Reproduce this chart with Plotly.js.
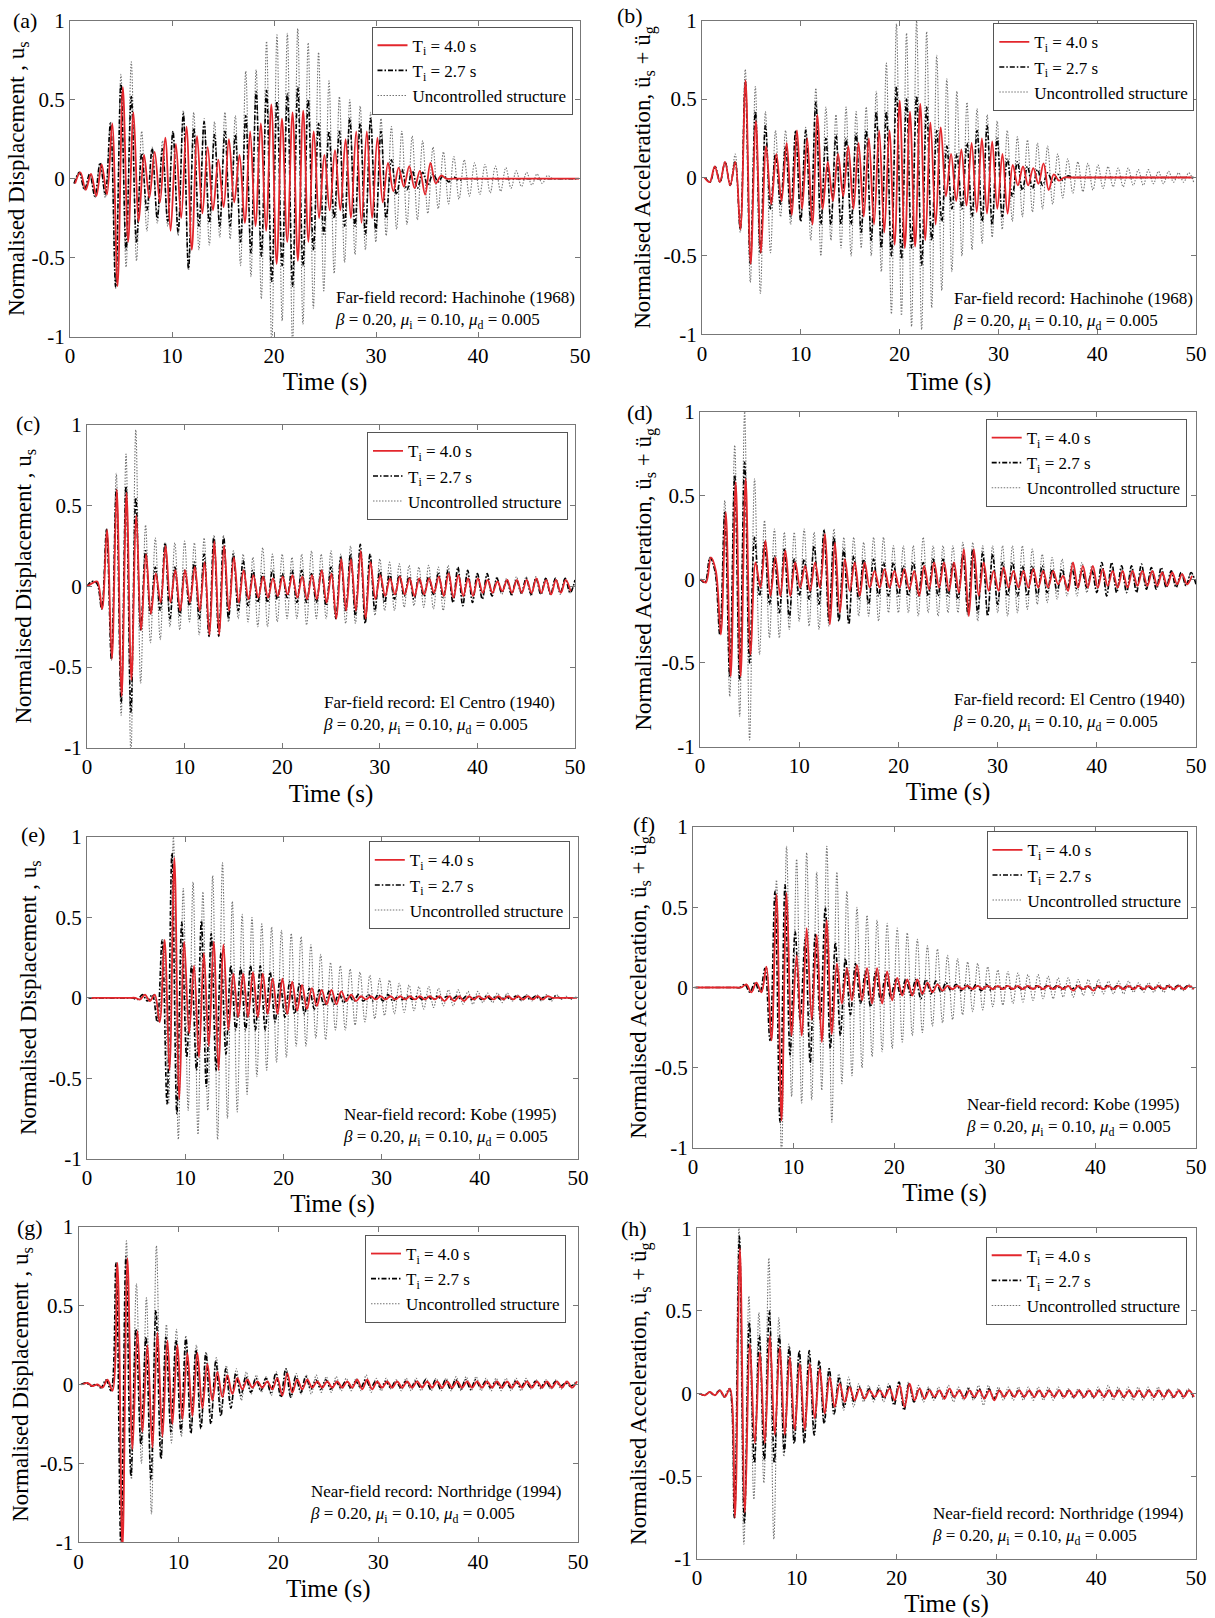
<!DOCTYPE html>
<html><head><meta charset="utf-8">
<script src="https://cdn.plot.ly/plotly-3.0.1.min.js"></script>
<style>html,body{margin:0;padding:0;background:#fff}#chart{width:1215px;height:1618px}</style>
</head><body><div id="chart"></div>
<script>
// ================= DATA (peak sequences) =================
const timeTicks = [0, 10, 20, 30, 40, 50];
const respTicks = [-1, -0.5, 0, 0.5, 1];
const respTickText = ['-1', '-0.5', '0', '0.5', '1'];
const seriesNames = ['T<sub>i</sub> = 4.0 s', 'T<sub>i</sub> = 2.7 s', 'Uncontrolled structure'];
const panelLabels = ['(a)', '(b)', '(c)', '(d)', '(e)', '(f)', '(g)', '(h)'];
const recordNames = ['Far-field record: Hachinohe (1968)', 'Far-field record: Hachinohe (1968)',
  'Far-field record: El Centro (1940)', 'Far-field record: El Centro (1940)',
  'Near-field record: Kobe (1995)', 'Near-field record: Kobe (1995)',
  'Near-field record: Northridge (1994)', 'Near-field record: Northridge (1994)'];
const paramText = '<i>β</i> = 0.20, <i>μ</i><sub>i</sub> = 0.10, <i>μ</i><sub>d</sub> = 0.005';
const dispTitle = 'Normalised Displacement , u<sub>s</sub>';
const accTitle = 'Normalised Acceleration, ü<sub>s</sub> + ü<sub>g</sub>';

// Each response is a sequence of successive extremes; its grid = [first time (s), step (s)]
// (a) Hachinohe, displacement
const aUncGrid = [0.4, 0.51];
const aUnc = [-0.03,0.04,-0.07,0.03,-0.12,0.1,-0.12,0.36,-0.68,0.66,
 -0.56,0.74,-0.52,0.3,-0.33,0.2,-0.28,0.24,-0.3,0.3,
 -0.36,0.43,-0.58,0.42,-0.45,0.38,-0.42,0.36,-0.37,0.42,
 -0.38,0.4,-0.55,0.68,-0.62,0.69,-0.76,0.87,-1.05,0.91,
 -0.9,0.92,-1.05,0.95,-0.92,0.86,-0.82,0.8,-0.71,0.62,
 -0.6,0.52,-0.53,0.5,-0.48,0.46,-0.45,0.42,-0.4,0.38,
 -0.36,0.33,-0.32,0.3,-0.29,0.27,-0.26,0.24,-0.22,0.2,
 -0.19,0.17,-0.16,0.14,-0.13,0.12,-0.11,0.1,-0.1,0.09,
 -0.09,0.08,-0.08,0.07,-0.06,0.05,-0.05,0.04,-0.04,0.03,
 -0.03,0.02,0,0,0,0,0,0];
const aT27Grid = [0.4, 0.51];
const aT27 = [-0.03,0.04,-0.07,0.03,-0.11,0.1,-0.1,0.35,-0.69,0.6,
 -0.45,0.52,-0.4,0.16,-0.2,0.19,-0.25,0.19,-0.27,0.3,
 -0.34,0.41,-0.57,0.32,-0.3,0.36,-0.28,0.28,-0.3,0.3,
 -0.3,0.28,-0.4,0.4,-0.47,0.55,-0.49,0.56,-0.65,0.49,
 -0.55,0.54,-0.68,0.58,-0.55,0.5,-0.45,0.35,-0.35,0.3,
 -0.25,0.3,-0.3,0.38,-0.3,0.35,-0.35,0.38,-0.33,0.3,
 -0.25,0.12,-0.1,0.06,-0.07,0.05,-0.06,0.04,-0.04,0.03,
 -0.02,0.02,-0.02,0.01,-0.01,0,0,0,0,0,
 0,0,0,0,0,0,0,0,0,0, 0,0,0,0,0,0,0,0];
const aT40Grid = [0.5, 0.52];
const aT40 = [-0.03,0.04,-0.07,0.03,-0.11,0.09,-0.1,0.35,-0.68,0.58,
 -0.4,0.42,-0.27,0.15,-0.12,0.17,-0.15,0.26,-0.33,0.22,
 -0.25,0.33,-0.45,0.27,-0.22,0.2,-0.2,0.12,-0.18,0.25,
 -0.15,0.15,-0.28,0.3,-0.3,0.35,-0.33,0.47,-0.54,0.38,
 -0.4,0.42,-0.52,0.43,-0.4,0.3,-0.25,0.15,-0.2,0.18,
 -0.2,0.25,-0.25,0.3,-0.28,0.3,-0.25,0.26,-0.15,0.1,
 -0.08,0.07,-0.05,0.08,-0.06,0.05,-0.1,0.1,-0.03,0.02,
 0,0,0,0,0,0,0,0,0,0, 0,0,0,0,0,0,0,0,0,0, 0,0,0,0,0,0];

// (b) Hachinohe, acceleration
const bUncGrid = [0.3, 0.51];
const bUnc = [0,-0.03,0.07,-0.03,0.1,-0.05,0.15,-0.35,0.69,-0.67,
 0.58,-0.74,0.42,-0.48,0.3,-0.25,0.3,-0.3,0.3,-0.28,
 0.32,-0.4,0.57,-0.5,0.45,-0.4,0.4,-0.45,0.45,-0.5,
 0.42,-0.45,0.45,-0.5,0.55,-0.6,0.73,-0.87,0.98,-0.88,
 0.92,-0.95,1.0,-0.97,0.93,-0.83,0.78,-0.72,0.63,-0.6,
 0.55,-0.5,0.48,-0.46,0.44,-0.42,0.4,-0.38,0.36,-0.33,
 0.3,-0.28,0.26,-0.25,0.24,-0.22,0.22,-0.2,0.2,-0.17,
 0.15,-0.13,0.12,-0.1,0.1,-0.09,0.09,-0.08,0.08,-0.07,
 0.07,-0.06,0.06,-0.06,0.06,-0.05,0.05,-0.05,0.05,-0.04,
 0.04,-0.04,0.04,-0.03,0.03,-0.03,0.03,-0.03];
const bT27Grid = [0.3, 0.51];
const bT27 = [0,-0.03,0.07,-0.03,0.1,-0.05,0.1,-0.33,0.61,-0.55,
 0.42,-0.48,0.33,-0.2,0.15,-0.17,0.2,-0.25,0.3,-0.28,
 0.3,-0.28,0.48,-0.3,0.25,-0.3,0.27,-0.3,0.25,-0.3,
 0.28,-0.35,0.3,-0.4,0.42,-0.45,0.42,-0.5,0.58,-0.52,
 0.5,-0.45,0.52,-0.56,0.45,-0.4,0.3,-0.28,0.2,-0.2,
 0.15,-0.2,0.22,-0.25,0.3,-0.28,0.33,-0.3,0.25,-0.25,
 0.12,-0.12,0.1,-0.08,0.07,-0.07,0.05,-0.05,0.03,-0.03,
 0.02,-0.02,0.01,0,0,0,0,0,0,0,
 0,0,0,0,0,0,0,0,0,0, 0,0,0,0,0,0,0,0];
const bT40Grid = [0.25, 0.52];
const bT40 = [0,-0.03,0.07,-0.03,0.1,-0.05,0.1,-0.33,0.62,-0.55,
 0.36,-0.48,0.2,-0.17,0.15,-0.15,0.22,-0.24,0.3,-0.2,
 0.25,-0.3,0.4,-0.2,0.1,-0.15,0.15,-0.12,0.2,-0.2,
 0.22,-0.25,0.25,-0.3,0.3,-0.35,0.3,-0.43,0.49,-0.45,
 0.42,-0.44,0.47,-0.4,0.35,-0.3,0.32,-0.12,0.15,-0.15,
 0.18,-0.18,0.22,-0.22,0.25,-0.23,0.23,-0.2,0.15,-0.23,
 0.08,-0.05,0.07,-0.05,0.06,-0.04,0.09,-0.08,0.02,-0.02,
 0,0,0,0,0,0,0,0,0,0, 0,0,0,0,0,0,0,0,0,0, 0,0,0,0,0,0];

// (c) El Centro, displacement
const cUncGrid = [0, 0.5];
const cUnc = [0,0.03,0.02,-0.14,0.36,-0.46,0.7,-0.8,0.82,-1.05,
 0.97,-0.6,0.38,-0.35,0.3,-0.33,0.27,-0.25,0.27,-0.27,
 0.28,-0.22,0.27,-0.3,0.3,-0.3,0.3,-0.28,0.25,-0.22,
 0.22,-0.2,0.2,-0.22,0.18,-0.25,0.24,-0.25,0.2,-0.22,
 0.2,-0.2,0.18,-0.2,0.2,-0.24,0.22,-0.2,0.2,-0.2,
 0.22,-0.2,0.2,-0.23,0.25,-0.23,0.22,-0.22,0.2,-0.18,
 0.17,-0.15,0.15,-0.15,0.14,-0.13,0.13,-0.12,0.12,-0.13,
 0.13,-0.14,0.12,-0.15,0.13,-0.1,0.1,-0.08,0.08,-0.08,
 0.08,-0.07,0.07,-0.06,0.06,-0.05,0.05,-0.06,0.06,-0.05,
 0.06,-0.06,0.06,-0.05,0.05,-0.05,0.05,-0.05,0.05,-0.04,0.04];
const cT27Grid = [0, 0.5];
const cT27 = [0,0.03,0.02,-0.14,0.35,-0.45,0.6,-0.72,0.62,-0.78,
 0.55,-0.27,0.22,-0.17,0.12,-0.15,0.27,-0.2,0.12,-0.18,
 0.1,-0.12,0.15,-0.2,0.2,-0.31,0.31,-0.31,0.31,-0.2,
 0.2,-0.15,0.16,-0.12,0.1,-0.1,0.08,-0.1,0.1,-0.08,
 0.08,-0.07,0.1,-0.1,0.1,-0.1,0.08,-0.1,0.1,-0.12,
 0.12,-0.2,0.18,-0.15,0.2,-0.18,0.26,-0.23,0.2,-0.15,
 0.1,-0.1,0.08,-0.08,0.07,-0.06,0.06,-0.08,0.05,-0.06,
 0.06,-0.05,0.08,-0.07,0.1,-0.1,0.12,-0.12,0.1,-0.1,
 0.08,-0.08,0.08,-0.06,0.05,-0.04,0.04,-0.05,0.04,-0.04,
 0.05,-0.05,0.05,-0.05,0.05,-0.05,0.05,-0.04,0.05,-0.04,0.04];
const cT40Grid = [0.05, 0.5];
const cT40 = [0,0.02,0.03,-0.14,0.35,-0.45,0.6,-0.68,0.58,-0.58,
 0.44,-0.27,0.2,-0.17,0.08,-0.1,0.25,-0.1,0.1,-0.15,
 0.1,-0.1,0.12,-0.15,0.15,-0.3,0.28,-0.3,0.25,-0.15,
 0.18,-0.1,0.1,-0.08,0.07,-0.07,0.06,-0.07,0.05,-0.06,
 0.06,-0.05,0.07,-0.07,0.06,-0.08,0.07,-0.08,0.1,-0.1,
 0.08,-0.2,0.17,-0.15,0.17,-0.15,0.22,-0.2,0.15,-0.08,
 0.07,-0.06,0.05,-0.05,0.06,-0.05,0.05,-0.06,0.05,-0.05,
 0.05,-0.04,0.06,-0.06,0.08,-0.07,0.07,-0.06,0.05,-0.06,
 0.05,-0.04,0.04,-0.04,0.03,-0.03,0.04,-0.04,0.04,-0.04,
 0.04,-0.04,0.05,-0.04,0.04,-0.05,0.04,-0.04,0.04,-0.03];

// (d) El Centro, acceleration
const dUncGrid = [0, 0.5];
const dUnc = [0,-0.02,0.13,0.05,-0.33,0.47,-0.7,0.8,-0.82,1.0,
 -0.96,0.6,-0.45,0.35,-0.35,0.3,-0.35,0.28,-0.3,0.28,
 -0.25,0.3,-0.28,0.28,-0.3,0.3,-0.28,0.3,-0.25,0.25,
 -0.25,0.25,-0.22,0.22,-0.22,0.25,-0.25,0.25,-0.2,0.2,
 -0.2,0.2,-0.2,0.2,-0.22,0.25,-0.2,0.2,-0.22,0.2,
 -0.2,0.2,-0.2,0.22,-0.22,0.22,-0.25,0.2,-0.2,0.2,
 -0.2,0.2,-0.22,0.2,-0.2,0.2,-0.18,0.18,-0.15,0.15,
 -0.14,0.13,-0.12,0.12,-0.1,0.1,-0.1,0.1,-0.08,0.08,
 -0.07,0.07,-0.07,0.06,-0.06,0.06,-0.06,0.06,-0.05,0.05,
 -0.05,0.05,-0.05,0.05,-0.05,0.04,-0.04,0.04,-0.04,0.04,-0.03];
const dT27Grid = [0, 0.5];
const dT27 = [0,-0.02,0.13,0.05,-0.33,0.4,-0.58,0.62,-0.6,0.7,
 -0.5,0.25,-0.1,0.22,-0.15,0.14,-0.2,0.18,-0.23,0.12,
 -0.1,0.12,-0.12,0.2,-0.15,0.29,-0.25,0.25,-0.25,0.18,
 -0.27,0.14,-0.12,0.12,-0.15,0.12,-0.1,0.1,-0.1,0.1,
 -0.1,0.08,-0.1,0.1,-0.1,0.1,-0.1,0.12,-0.1,0.12,
 -0.1,0.1,-0.12,0.15,-0.2,0.18,-0.2,0.16,-0.22,0.15,
 -0.15,0.1,-0.1,0.1,-0.1,0.08,-0.1,0.08,-0.1,0.08,
 -0.08,0.06,-0.07,0.06,-0.06,0.06,-0.06,0.05,-0.05,0.05,
 -0.08,0.1,-0.1,0.1,-0.08,0.08,-0.08,0.08,-0.08,0.09,
 -0.06,0.07,-0.06,0.07,-0.05,0.05,-0.05,0.04,-0.04,0.04,-0.03];
const dT40Grid = [0.1, 0.5];
const dT40 = [0,-0.02,0.13,0.05,-0.33,0.4,-0.58,0.58,-0.58,0.6,
 -0.45,0.1,-0.05,0.23,-0.1,0.13,-0.1,0.17,-0.1,0.1,
 -0.05,0.08,-0.07,0.1,-0.05,0.27,-0.27,0.22,-0.2,0.12,
 -0.07,0.1,-0.1,0.1,-0.05,0.05,-0.05,0.06,-0.05,0.05,
 -0.05,0.06,-0.06,0.05,-0.1,0.08,-0.06,0.1,-0.05,0.1,
 -0.07,0.1,-0.08,0.18,-0.22,0.18,-0.1,0.1,-0.07,0.05,
 -0.07,0.07,-0.05,0.05,-0.05,0.05,-0.05,0.06,-0.05,0.05,
 -0.05,0.05,-0.03,0.02,-0.07,0.1,-0.05,0.08,-0.05,0.08,
 -0.05,0.06,-0.04,0.05,-0.05,0.05,-0.05,0.05,-0.04,0.05,
 -0.04,0.05,-0.04,0.04,-0.04,0.04,-0.03,0.03,-0.03,0.02];

// (e) Kobe, displacement
const eUncGrid = [0.3, 0.5];
const eUnc = [0,0,0,0,0,0,0,0,0,0,
 -0.01,0.02,-0.02,0.02,-0.15,0.36,-0.66,1.0,-0.88,0.68,
 -0.7,0.72,-0.85,0.66,-0.7,0.76,-0.88,0.84,-0.75,0.6,
 -0.71,0.52,-0.6,0.5,-0.49,0.46,-0.45,0.44,-0.4,0.42,
 -0.37,0.4,-0.3,0.38,-0.3,0.33,-0.25,0.27,-0.26,0.22,
 -0.2,0.2,-0.2,0.18,-0.17,0.16,-0.15,0.14,-0.13,0.12,
 -0.11,0.11,-0.1,0.09,-0.09,0.08,-0.08,0.07,-0.07,0.07,
 -0.06,0.06,-0.05,0.05,-0.05,0.05,-0.04,0.04,-0.04,0.04,
 -0.03,0.03,-0.03,0.03,-0.03,0.03,-0.02,0.02,-0.02,0.02,
 -0.02,0.02,-0.02,0.02,-0.02,0.02,-0.01,0.01,-0.01,0.01];
const eT27Grid = [0.15, 0.5];
const eT27 = [0,0,0,0,0,0,0,0,0,0,
 -0.01,0.02,-0.02,0.02,-0.15,0.36,-0.66,0.9,-0.72,0.47,
 -0.37,0.2,-0.45,0.48,-0.55,0.4,-0.45,0.28,-0.35,0.2,
 -0.2,0.19,-0.2,0.2,-0.2,0.2,-0.2,0.16,-0.15,0.11,
 -0.12,0.1,-0.1,0.09,-0.1,0.06,-0.07,0.05,-0.05,0.04,
 -0.04,0.03,-0.03,0.02,-0.02,0.02,-0.02,0.02,-0.02,0.02,
 -0.02,0.02,-0.02,0.01,-0.01,0.01,-0.01,0.01,-0.01,0.01,
 -0.01,0.01,-0.01,0.01,-0.01,0.01,-0.01,0.01,-0.01,0.01,
 -0.01,0.01,-0.01,0.01,-0.01,0.01,-0.01,0.01,-0.01,0.01,
 -0.01,0.01,-0.01,0.01,-0.01,0.01,0,0,0,0];
const eT40Grid = [0.4, 0.5];
const eT40 = [0,0,0,0,0,0,0,0,0,0,
 -0.01,0.02,-0.02,0.02,-0.15,0.36,-0.45,0.87,-0.63,0.35,
 -0.22,0.2,-0.37,0.28,-0.3,0.35,-0.45,0.33,-0.2,0.15,
 -0.12,0.15,-0.12,0.16,-0.12,0.15,-0.1,0.12,-0.1,0.12,
 -0.1,0.1,-0.08,0.08,-0.07,0.06,-0.05,0.05,-0.04,0.05,
 -0.04,0.04,-0.02,0.02,-0.02,0.01,-0.01,0.01,-0.01,0.01,
 -0.01,0.01,-0.01,0.01,-0.01,0.01,-0.01,0.01,-0.01,0.01,
 -0.01,0.01,-0.02,0.01,-0.02,0.01,-0.02,0.01,-0.01,0.01,
 -0.01,0.01,-0.01,0.01,-0.01,0.01,-0.01,0.01,-0.01,0.01,
 -0.01,0.01,-0.01,0.01,0,0,0,0,0,0];

// (f) Kobe, acceleration
const fUncGrid = [0.3, 0.5];
const fUnc = [0,0,0,0,0,0,0,0,0,0,
 0.02,-0.03,0.03,-0.03,0.13,-0.33,0.67,-1.05,0.88,-0.68,
 0.8,-0.72,0.84,-0.7,0.72,-0.64,0.88,-0.84,0.72,-0.6,
 0.6,-0.55,0.5,-0.5,0.45,-0.43,0.42,-0.4,0.4,-0.38,
 0.37,-0.34,0.34,-0.3,0.3,-0.28,0.26,-0.24,0.24,-0.22,
 0.2,-0.2,0.18,-0.17,0.16,-0.15,0.15,-0.14,0.13,-0.12,
 0.11,-0.11,0.1,-0.1,0.09,-0.09,0.08,-0.08,0.08,-0.07,
 0.07,-0.07,0.06,-0.06,0.06,-0.06,0.05,-0.05,0.05,-0.05,
 0.05,-0.04,0.04,-0.04,0.04,-0.04,0.04,-0.03,0.03,-0.03,
 0.03,-0.03,0.03,-0.03,0.02,-0.02,0.02,-0.02,0.02,-0.02];
const fT27Grid = [0.15, 0.5];
const fT27 = [0,0,0,0,0,0,0,0,0,0,
 0.02,-0.03,0.03,-0.03,0.12,-0.33,0.6,-0.84,0.64,-0.42,
 0.35,-0.2,0.3,-0.47,0.33,-0.2,0.5,-0.38,0.28,-0.3,
 0.18,-0.17,0.15,-0.1,0.1,-0.12,0.1,-0.08,0.08,-0.06,
 0.05,-0.05,0.05,-0.05,0.05,-0.07,0.05,-0.04,0.04,-0.03,
 0.03,-0.02,0.02,-0.02,0.02,-0.02,0.02,-0.02,0.02,-0.02,
 0.01,-0.01,0.01,-0.01,0.01,-0.01,0.01,-0.01,0.01,-0.01,
 0.01,-0.01,0.01,-0.01,0.01,-0.01,0.01,-0.01,0.01,-0.01,
 0.01,-0.01,0.01,-0.01,0.01,-0.01,0.01,-0.01,0.01,-0.01,
 0.01,-0.01,0.01,-0.01,0.01,-0.01,0.01,-0.01,0.01,-0.01];
const fT40Grid = [0.3, 0.5];
const fT40 = [0,0,0,0,0,0,0,0,0,0,
 0.02,-0.03,0.03,-0.03,0.13,-0.33,0.58,-0.83,0.59,-0.3,
 0.2,-0.3,0.37,-0.2,0.33,-0.34,0.42,-0.29,0.15,-0.1,
 0.12,-0.08,0.14,-0.08,0.12,-0.1,0.12,-0.1,0.1,-0.08,
 0.06,-0.05,0.05,-0.05,0.05,-0.04,0.03,-0.03,0.02,-0.02,
 0.01,-0.01,0.01,-0.01,0.01,-0.01,0.01,-0.01,0.01,-0.01,
 0.01,-0.01,0.01,-0.01,0.01,-0.01,0.01,-0.01,0.01,-0.01,
 0.01,-0.01,0.01,-0.01,0.01,-0.02,0.01,-0.01,0.01,-0.02,
 0.01,-0.01,0.01,-0.01,0.01,-0.01,0.01,-0.01,0.01,-0.01,
 0.01,-0.01,0.01,-0.01,0.01,-0.01,0.01,-0.01,0.01,-0.01];

// (g) Northridge, displacement
const gUncGrid = [0.3, 0.5];
const gUnc = [0,0.01,-0.01,0,-0.02,0.03,-0.04,0.77,-1.05,0.91,
 -0.6,0.64,-0.5,0.55,-0.82,0.88,-0.47,0.38,-0.37,0.35,
 -0.33,0.27,-0.27,0.25,-0.25,0.2,-0.2,0.17,-0.15,0.12,
 -0.12,0.1,-0.1,0.08,-0.06,0.06,-0.05,0.05,-0.07,0.08,
 -0.08,0.1,-0.08,0.07,-0.06,0.06,-0.06,0.06,-0.05,0.05,
 -0.05,0.05,-0.04,0.04,-0.04,0.04,-0.04,0.06,-0.05,0.04,
 -0.04,0.04,-0.03,0.03,-0.04,0.04,-0.04,0.04,-0.04,0.04,
 -0.04,0.04,-0.04,0.04,-0.04,0.05,-0.04,0.05,-0.04,0.05,
 -0.04,0.04,-0.04,0.04,-0.04,0.04,-0.04,0.04,-0.04,0.04,
 -0.03,0.03,-0.03,0.03,-0.03,0.03,-0.03,0.02,-0.02,0.02];
const gT27Grid = [0.25, 0.5];
const gT27 = [0,0.01,-0.01,0,-0.02,0.03,-0.04,0.77,-1.05,0.81,
 -0.58,0.35,-0.38,0.3,-0.6,0.47,-0.47,0.3,-0.3,0.28,
 -0.3,0.3,-0.31,0.22,-0.28,0.2,-0.25,0.15,-0.2,0.1,
 -0.15,0.07,-0.07,0.05,-0.05,0.04,-0.04,0.04,-0.05,0.07,
 -0.08,0.1,-0.08,0.05,-0.05,0.05,-0.03,0.03,-0.03,0.03,
 -0.03,0.02,-0.02,0.02,-0.02,0.02,-0.02,0.03,-0.02,0.02,
 -0.02,0.02,-0.02,0.02,-0.02,0.02,-0.02,0.02,-0.02,0.03,
 -0.03,0.03,-0.03,0.03,-0.03,0.03,-0.03,0.03,-0.03,0.03,
 -0.02,0.02,-0.02,0.02,-0.02,0.02,-0.02,0.02,-0.02,0.02,
 -0.02,0.02,-0.02,0.02,-0.02,0.02,-0.01,0.01,-0.01,0.01];
const gT40Grid = [0.4, 0.5];
const gT40 = [0,0.01,-0.01,0,-0.02,0.03,-0.04,0.77,-1.05,0.8,
 -0.41,0.34,-0.3,0.25,-0.4,0.33,-0.33,0.28,-0.25,0.25,
 -0.22,0.2,-0.2,0.2,-0.15,0.13,-0.1,0.08,-0.08,0.06,
 -0.06,0.04,-0.03,0.03,-0.02,0.02,-0.02,0.02,-0.03,0.04,
 -0.07,0.07,-0.05,0.03,-0.03,0.03,-0.02,0.02,-0.02,0.02,
 -0.02,0.02,-0.02,0.02,-0.02,0.03,-0.03,0.03,-0.03,0.02,
 -0.02,0.02,-0.02,0.02,-0.02,0.02,-0.02,0.02,-0.02,0.02,
 -0.02,0.02,-0.02,0.02,-0.02,0.02,-0.02,0.02,-0.02,0.02,
 -0.02,0.02,-0.02,0.02,-0.02,0.02,-0.02,0.02,-0.02,0.02,
 -0.02,0.02,-0.02,0.02,-0.02,0.02,-0.02,0.02,-0.02,0.02];

// (h) Northridge, acceleration
const hUncGrid = [0.2, 0.5];
const hUnc = [0,-0.01,0.01,-0.01,0.02,-0.02,0.03,-0.75,1.0,-0.91,
 0.59,-0.64,0.49,-0.54,0.82,-0.88,0.46,-0.38,0.3,-0.3,
 0.25,-0.28,0.25,-0.25,0.2,-0.18,0.15,-0.13,0.12,-0.1,
 0.1,-0.08,0.06,-0.05,0.05,-0.05,0.05,-0.05,0.06,-0.06,
 0.07,-0.07,0.07,-0.05,0.05,-0.05,0.04,-0.04,0.04,-0.04,
 0.05,-0.05,0.04,-0.04,0.04,-0.04,0.05,-0.07,0.05,-0.04,
 0.04,-0.04,0.04,-0.04,0.04,-0.04,0.04,-0.04,0.04,-0.04,
 0.04,-0.04,0.04,-0.03,0.03,-0.03,0.03,-0.03,0.03,-0.03,
 0.04,-0.04,0.05,-0.04,0.04,-0.04,0.04,-0.04,0.04,-0.04,
 0.04,-0.04,0.04,-0.04,0.03,-0.03,0.03,-0.03,0.03,-0.03];
const hT27Grid = [0.25, 0.5];
const hT27 = [0,-0.01,0.01,-0.01,0.02,-0.02,0.03,-0.75,0.95,-0.78,
 0.43,-0.42,0.35,-0.4,0.5,-0.42,0.35,-0.35,0.28,-0.3,
 0.26,-0.3,0.26,-0.25,0.2,-0.18,0.15,-0.12,0.1,-0.08,
 0.06,-0.05,0.04,-0.03,0.03,-0.03,0.03,-0.03,0.05,-0.07,
 0.07,-0.1,0.06,-0.05,0.03,-0.03,0.03,-0.03,0.02,-0.02,
 0.02,-0.02,0.02,-0.02,0.03,-0.03,0.03,-0.03,0.03,-0.03,
 0.02,-0.02,0.02,-0.02,0.02,-0.02,0.02,-0.02,0.02,-0.02,
 0.02,-0.02,0.02,-0.02,0.02,-0.02,0.02,-0.02,0.02,-0.02,
 0.02,-0.02,0.02,-0.02,0.02,-0.02,0.02,-0.02,0.02,-0.02,
 0.02,-0.02,0.02,-0.02,0.02,-0.02,0.02,-0.02,0.02,-0.02];
const hT40Grid = [0.3, 0.5];
const hT40 = [0,-0.01,0.01,-0.01,0.02,-0.02,0.03,-0.75,0.88,-0.72,
 0.3,-0.3,0.25,-0.3,0.35,-0.25,0.28,-0.25,0.22,-0.22,
 0.18,-0.22,0.18,-0.15,0.15,-0.12,0.1,-0.08,0.06,-0.05,
 0.04,-0.04,0.03,-0.03,0.02,-0.02,0.02,-0.02,0.03,-0.04,
 0.05,-0.08,0.06,-0.04,0.03,-0.03,0.02,-0.02,0.02,-0.03,
 0.03,-0.02,0.02,-0.03,0.02,-0.02,0.02,-0.03,0.02,-0.04,
 0.02,-0.02,0.02,-0.02,0.02,-0.02,0.02,-0.02,0.02,-0.02,
 0.02,-0.02,0.02,-0.02,0.02,-0.02,0.02,-0.02,0.02,-0.02,
 0.02,-0.02,0.02,-0.02,0.02,-0.02,0.02,-0.02,0.02,-0.02,
 0.02,-0.02,0.02,-0.02,0.02,-0.02,0.02,-0.02,0.02,-0.02];

// ================= LAYOUT / STYLE =================
const W = 1215, H = 1618;
const FONT = 'Liberation Serif, Times New Roman, serif';
// plot boxes in px: [left, right, top, bottom]
const boxes = [[70,580,20.7,336.7],[702,1196,20.7,334.3],[87,575,425,747.7],[700,1196,411.7,746.7],
  [87,578,837,1158.7],[693,1196,827,1148],[78.5,578,1226.7,1542.3],[697,1196,1228.3,1559]];
const legendPos = [[572.5,26.7],[1194.3,23.3],[568,432.3],[1186.7,419],[569.8,841.3],[1187.5,831.3],[566,1235],[1186.7,1236.7]];
const notePos = [[577,310],[1195,311],[557,715],[1187,712],[559,1127],[1182,1117],[563,1504],[1185,1526]];
const labelPos = [[25,21],[630,15],[28,423],[640,412],[33,834],[644,824],[30,1227],[634,1228]];
const yStand = [0,6,10,3,5,0,4,5];
const xStand = [5,7,6,4,0,0,6,8];

const panelData = [
  [aT40,aT40Grid,aT27,aT27Grid,aUnc,aUncGrid],
  [bT40,bT40Grid,bT27,bT27Grid,bUnc,bUncGrid],
  [cT40,cT40Grid,cT27,cT27Grid,cUnc,cUncGrid],
  [dT40,dT40Grid,dT27,dT27Grid,dUnc,dUncGrid],
  [eT40,eT40Grid,eT27,eT27Grid,eUnc,eUncGrid],
  [fT40,fT40Grid,fT27,fT27Grid,fUnc,fUncGrid],
  [gT40,gT40Grid,gT27,gT27Grid,gUnc,gUncGrid],
  [hT40,hT40Grid,hT27,hT27Grid,hUnc,hUncGrid]];

const styles = [
  {color:'#e3262c', width:1.8, dash:'solid'},
  {color:'#000000', width:1.6, dash:'5px,2px,1.5px,2px'},
  {color:'#737373', width:1.1, dash:'1.5px,1.5px'}];

function times(grid, n) { const t = []; for (let k = 0; k < n; k++) t.push(+(grid[0] + grid[1]*k).toFixed(3)); return t; }

const traces = [];
const layout = {width:W, height:H, margin:{l:0,r:0,t:0,b:0}, paper_bgcolor:'#fff', plot_bgcolor:'#fff',
  showlegend:true, annotations:[], font:{family:FONT, color:'#000'}};

panelData.forEach((pd, i) => {
  const n = i + 1, sfx = n === 1 ? '' : String(n);
  const [l, r, t, b] = boxes[i];
  const legName = 'legend' + sfx;
  // draw order: uncontrolled (bottom), T=2.7, T=4.0 (top)
  [2, 1, 0].forEach(s => {
    const y = pd[2*s], grid = pd[2*s+1];
    traces.push({type:'scatter', mode:'lines', x:times(grid, y.length), y:y,
      xaxis:'x'+sfx, yaxis:'y'+sfx, name:seriesNames[s], legend:legName,
      legendgroup:'p'+n+'s'+s, legendrank:s+1, hoverinfo:'skip',
      line:{color:styles[s].color, width:styles[s].width, dash:styles[s].dash, shape:'spline', smoothing:1}});
  });
  const axCommon = {showline:true, linecolor:'#777', linewidth:1, mirror:'ticks', ticks:'inside', ticklen:5,
    tickcolor:'#777', showgrid:false, zeroline:false, tickfont:{family:FONT, size:21, color:'#000'}};
  layout['xaxis'+sfx] = Object.assign({}, axCommon, {domain:[l/W, r/W], anchor:'y'+sfx, range:[0,50],
    tickmode:'array', tickvals:timeTicks, ticktext:timeTicks.map(String),
    title:{text:'Time (s)', font:{family:FONT, size:25, color:'#000'}, standoff:xStand[i]}});
  layout['yaxis'+sfx] = Object.assign({}, axCommon, {domain:[1-b/H, 1-t/H], anchor:'x'+sfx, range:[-1,1],
    tickmode:'array', tickvals:respTicks, ticktext:respTickText,
    title:{text: i % 2 === 0 ? dispTitle : accTitle, font:{family:FONT, size:23, color:'#000'}, standoff:yStand[i]}});
  layout[legName] = {x:legendPos[i][0]/W, xanchor:'right', y:1-legendPos[i][1]/H, yanchor:'top',
    bgcolor:'#fff', bordercolor:'#555', borderwidth:1, font:{family:FONT, size:17, color:'#000'},
    itemwidth:30, tracegroupgap:6, traceorder:'normal'};
  layout.annotations.push({xref:'paper', yref:'paper', x:notePos[i][0]/W, y:1-notePos[i][1]/H,
    xanchor:'right', yanchor:'middle', align:'left', showarrow:false,
    text: recordNames[i] + '<br>' + paramText, font:{family:FONT, size:17, color:'#000'}});
  layout.annotations.push({xref:'paper', yref:'paper', x:labelPos[i][0]/W, y:1-labelPos[i][1]/H,
    xanchor:'center', yanchor:'middle', showarrow:false, text:panelLabels[i],
    font:{family:FONT, size:22, color:'#000'}});
});

Plotly.newPlot('chart', traces, layout, {staticPlot:true, displayModeBar:false});
</script>
</body></html>
